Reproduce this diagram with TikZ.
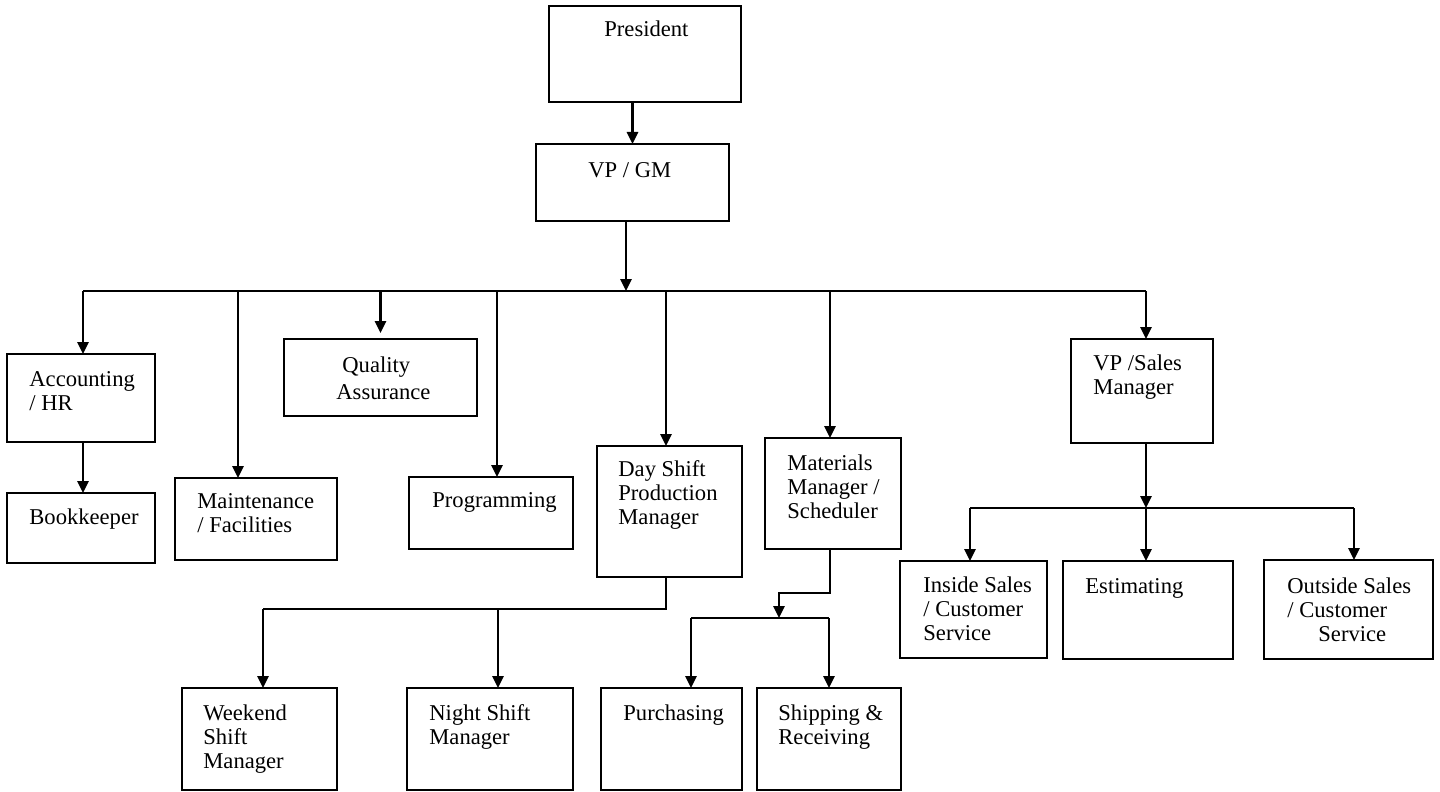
\documentclass[tikz,border=0pt]{standalone}
\usepackage{fontspec}
\setmainfont{Liberation Serif}
\usetikzlibrary{arrows.meta}
\newcommand{\orgbox}[5]{\node[box, minimum width={(#4-#2)*0.5pt}, minimum height={(#5-#3)*0.5pt}] (#1) at ({(#2+#4)/2},{(#3+#5)/2}) {};}
\newcommand{\lns}[1]{\begin{tabular}[t]{@{}l@{}}#1\end{tabular}}
\begin{document}
\begin{tikzpicture}[x=0.5pt,y=-0.5pt,
  box/.style={draw, line width=1.4pt, inner sep=0pt, outer sep=0pt},
  txt/.style={anchor=base west, inner sep=0pt, font=\fontsize{11.3}{12}\selectfont},
  line/.style={line width=1.3pt},
  arr/.style={line width=1.3pt, -{Triangle[width=5.5pt,length=6pt]}}]
\useasboundingbox (0,0) rectangle (1440,792);
% boxes
\orgbox{pres}{549}{6}{741}{102}
\orgbox{vpgm}{536}{144}{729}{221}
\orgbox{acct}{7}{354}{155}{442}
\orgbox{book}{7}{493}{155}{563}
\orgbox{maint}{175}{478}{337}{560}
\orgbox{qa}{284}{339}{477}{416}
\orgbox{prog}{409}{477}{573}{549}
\orgbox{day}{597}{446}{742}{577}
\orgbox{mat}{765}{438}{901}{549}
\orgbox{vps}{1071}{339}{1213}{443}
\orgbox{ins}{900}{561}{1047}{658}
\orgbox{est}{1063}{561}{1233}{659}
\orgbox{out}{1264}{560}{1433}{659}
\orgbox{wknd}{182}{688}{337}{790}
\orgbox{night}{407}{688}{573}{790}
\orgbox{purch}{601}{688}{742}{790}
\orgbox{ship}{757}{688}{901}{790}
% texts
\node[txt] (pres-t) at (604,37) {President};
\node[txt] (vpgm-t) at (588,177) {VP / GM};
\node[txt] (acct-t) at (29,386) {\lns{Accounting\\/ HR}};
\node[txt] (book-t) at (29,524) {Bookkeeper};
\node[txt] (maint-t) at (197,508) {\lns{Maintenance\\/ Facilities}};
\node[txt] (qa-t) at (336,372) {\lns{\hspace{3pt}Quality\\[1.5pt]Assurance}};
\node[txt] (prog-t) at (432,507) {Programming};
\node[txt] (day-t) at (618,476) {\lns{Day Shift\\Production\\Manager}};
\node[txt] (mat-t) at (787,470) {\lns{Materials\\Manager /\\Scheduler}};
\node[txt] (vps-t) at (1093,370) {\lns{VP /Sales\\Manager}};
\node[txt] (ins-t) at (923,592) {\lns{Inside Sales\\/ Customer\\Service}};
\node[txt] (est-t) at (1085,593) {Estimating};
\node[txt] (out-t) at (1287,593) {\lns{Outside Sales\\/ Customer\\\hspace{15.5pt}Service}};
\node[txt] (wknd-t) at (203,720) {\lns{Weekend\\Shift\\Manager}};
\node[txt] (night-t) at (429,720) {\lns{Night Shift\\Manager}};
\node[txt] (purch-t) at (623,720) {Purchasing};
\node[txt] (ship-t) at (778,720) {\lns{Shipping \&\\Receiving}};
% connectors
\coordinate (bus) at (626,291);
\coordinate (busL) at (83,291);
\coordinate (busR) at (1146,291);
\draw[arr] (pres.south -| vpgm.north) -- (vpgm.north);
\draw[arr] (vpgm.south -| bus) -- (bus);
\draw[line] (busL) -- (busR);
\draw[arr] ([xshift=1pt]acct.north |- bus) -- ([xshift=1pt]acct.north);
\draw[arr] ([xshift=1pt]acct.south) -- ([xshift=1pt]book.north);
\draw[arr] ([xshift=-9pt]maint.north |- bus) -- ([xshift=-9pt]maint.north);
\draw[arr, shorten >=3pt] (qa.north |- bus) -- (qa.north);
\draw[arr] ([xshift=3pt]prog.north |- bus) -- ([xshift=3pt]prog.north);
\draw[arr] ([xshift=-1.75pt]day.north |- bus) -- ([xshift=-1.75pt]day.north);
\draw[arr] ([xshift=-1.5pt]mat.north |- bus) -- ([xshift=-1.5pt]mat.north);
\draw[arr] ([xshift=2pt]vps.north |- bus) -- ([xshift=2pt]vps.north);
% sales
\coordinate (sbus) at (1146,508);
\draw[arr] ([xshift=2pt]vps.south) -- (sbus);
\draw[line] ([xshift=-1.75pt]ins.north |- sbus) -- ([xshift=2.75pt]out.north |- sbus);
\draw[arr] ([xshift=-1.75pt]ins.north |- sbus) -- ([xshift=-1.75pt]ins.north);
\draw[arr] ([xshift=-1pt]est.north |- sbus) -- ([xshift=-1pt]est.north);
\draw[arr] ([xshift=2.75pt]out.north |- sbus) -- ([xshift=2.75pt]out.north);
% day shift
\coordinate (dbus) at (666,609);
\draw[line] ([xshift=-1.75pt]day.south) -- (dbus) -- ([xshift=1.75pt]wknd.north |- dbus);
\draw[arr] ([xshift=1.75pt]wknd.north |- dbus) -- ([xshift=1.75pt]wknd.north);
\draw[arr] ([xshift=4pt]night.north |- dbus) -- ([xshift=4pt]night.north);
% materials
\coordinate (mbend) at (779,593);
\coordinate (mbus) at (779,618);
\draw[arr] ([xshift=-1.5pt]mat.south) |- (mbend) -- (mbus);
\draw[line] ([xshift=9.75pt]purch.north |- mbus) -- (ship.north |- mbus);
\draw[arr] ([xshift=9.75pt]purch.north |- mbus) -- ([xshift=9.75pt]purch.north);
\draw[arr] (ship.north |- mbus) -- (ship.north);
\end{tikzpicture}
\end{document}
